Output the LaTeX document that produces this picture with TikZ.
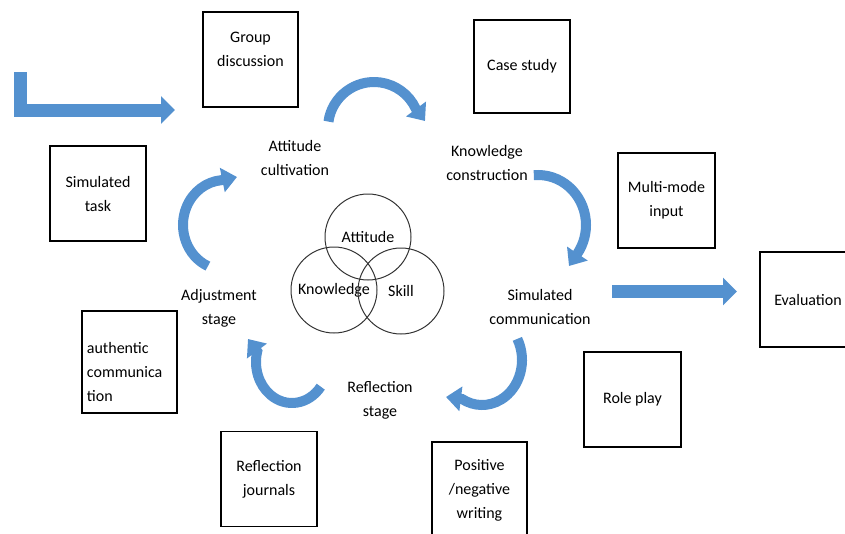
\documentclass[tikz,border=0pt]{standalone}
\usepackage{fontspec}
\setmainfont{Carlito}
\usetikzlibrary{arrows.meta,positioning}
\definecolor{arrowblue}{RGB}{84,145,207}
\tikzset{every node/.style={font=\fontsize{16}{24}\selectfont},
	taskbox/.style={draw,line width=1.2pt,minimum width=96pt,minimum height=95pt,align=center,inner sep=2pt},
	stage/.style={align=center},
	ring/.style={circle,draw=black!80,line width=1pt,minimum size=86pt,inner sep=0pt},
	cycarrow/.style={draw=arrowblue,line width=10pt,-{Triangle[width=24pt,length=15pt]}},
	fatarrow/.style={draw=arrowblue,line width=13pt,-{Triangle[width=27pt,length=14pt]}}}

\begin{document}
\begin{tikzpicture}[x=1pt,y=-1pt]
		\clip (0,0) rectangle (845,533);
		% three circles in the middle
		\node[ring] (att)   at (368,237) {Attitude};
		\node[ring] (know)  at (334,290) {Knowledge};
		\node[ring] (skill) at (401,291) {Skill};
		% stages of the cycle
		\node[stage] (attc)  at (295,158) {Attitude\\cultivation};
		\node[stage] (knowc) at (487,163) {Knowledge\\construction};
		\node[stage] (simc)  at (540,307) {Simulated\\communication};
		\node[stage] (reflc) at (380,400) {Reflection\\stage};
		\node[stage] (adjc)  at (219,308) {Adjustment\\stage};
		% activities
		\node[taskbox, minimum width=95pt, label={[align=center,yshift=10pt]center:Group\\discussion}] (grp) at (250.5,59.5) {};
		\node[taskbox, minimum height=93pt] (case)  at (522,66.5)    {Case study};
		\node[taskbox, minimum width=97pt]  (multi) at (666.5,200.5) {Multi-mode\\input};
		\node[taskbox, line width=2pt]      (eval)  at (808,299.5)   {Evaluation};
		\node[taskbox]                      (simt)  at (98,193.5)    {Simulated\\task};
		\node[taskbox, minimum width=95pt, minimum height=102pt, label={[align=left,anchor=west,xshift=2pt,yshift=-10pt]west:authentic\\communica\\tion}] (auth) at (129.5,362) {};
		\node[taskbox]                      (refj)  at (269,479)     {Reflection\\journals};
		\node[taskbox, minimum width=95pt, minimum height=96pt] (posw) at (479.5,490) {Positive\\/negative\\writing};
		\node[taskbox, minimum width=97pt]  (role)  at (632.5,399.5) {Role play};
		% straight arrows
		\coordinate (lstart) at (20.5,72);
		\coordinate (ltip)   at (175,110);
		\draw[fatarrow] (lstart) |- (ltip);
		\coordinate (rstart) at (612,291.5);
		\draw[fatarrow, shorten >=22pt] (rstart) -- (rstart -| eval.west);
		% curved arrows round the cycle
		\coordinate (c1) at ({374+46*cos(188)},{128+46*sin(188)});
		\coordinate (t1) at (425,121);
		\draw[cycarrow] (c1) arc[start angle=188, end angle=335, radius=46] -- (t1);
		\coordinate (c2) at ({538+48*cos(265)},{225+50*sin(265)});
		\coordinate (t2) at (569,266);
		\draw[cycarrow] (c2) arc[start angle=265, end angle=395, x radius=48, y radius=50] -- (t2);
		\coordinate (c3) at ({482+40*cos(332)},{360+45*sin(332)});
		\coordinate (t3) at (446,397);
		\draw[cycarrow] (c3) arc[start angle=332, end angle=480, x radius=40, y radius=45] -- (t3);
		\coordinate (c4) at ({292+36*cos(37)},{362+41*sin(37)});
		\coordinate (t4) at (248,339);
		\draw[cycarrow] (c4) arc[start angle=37, end angle=195, x radius=36, y radius=41] -- (t4);
		\coordinate (c5) at ({225+42*cos(114)},{225+45*sin(114)});
		\coordinate (t5) at (237,177);
		\draw[cycarrow] (c5) arc[start angle=114, end angle=265, x radius=42, y radius=45] -- (t5);
	\end{tikzpicture}
\end{document}
